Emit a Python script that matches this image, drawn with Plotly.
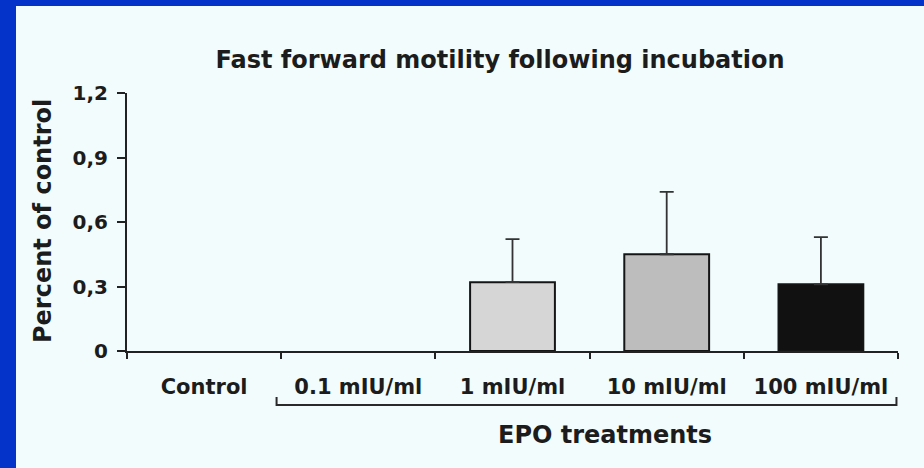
import plotly.graph_objects as go

# Categories and measured values (fraction of control), upper SD
categories = ["Control", "0.1 mIU/ml", "1 mIU/ml", "10 mIU/ml", "100 mIU/ml"]
values = [None, None, 0.32, 0.45, 0.31]
errors_up = [None, None, 0.20, 0.29, 0.22]
bar_colors = ["#d2d2d2", "#d2d2d2", "#d6d6d6", "#bdbdbd", "#111111"]

y_tick_vals = [0, 0.3, 0.6, 0.9, 1.2]
y_tick_text = ["0", "0,3", "0,6", "0,9", "1,2"]

title_text = "Fast forward motility following incubation"
y_title = "Percent of control"
group_title = "EPO treatments"

W, H = 924, 468
L, R, T, B = 127, 26, 93, 117
PW, PH = W - L - R, H - T - B

FONT = "DejaVu Sans"
INK = "#1c1c1c"
PANEL = "#f2fcfc"
BLUE = "#0333c9"


def px_x(px):
    return (px - L) / PW


def px_y(py):
    return (H - B - py) / PH


fig = go.Figure()
fig.add_trace(go.Bar(
    x=categories,
    y=values,
    width=0.55,
    marker=dict(color=bar_colors, line=dict(color="#151515", width=2)),
    error_y=dict(type="data", symmetric=False, array=errors_up,
                 arrayminus=[0 if v is not None else None for v in errors_up],
                 color="#333333", thickness=1.8, width=7),
    showlegend=False,
))

shapes = [
    # light panel over the blue frame
    dict(type="rect", xref="paper", yref="paper", layer="below",
         x0=px_x(16), x1=px_x(W + 2), y0=px_y(H + 2), y1=px_y(6),
         fillcolor=PANEL, line=dict(width=0)),
    # bracket under the EPO doses
    dict(type="path", xref="x", yref="paper",
         path=f"M 0.47,{px_y(397)} L 0.47,{px_y(405)} L 4.49,{px_y(405)} L 4.49,{px_y(397)}",
         line=dict(color="#2a2a2a", width=2)),
]

fig.update_layout(
    width=W, height=H,
    margin=dict(l=L, r=R, t=T, b=B),
    paper_bgcolor=BLUE,
    plot_bgcolor=PANEL,
    shapes=shapes,
    title=dict(text=title_text, xref="container", yref="container",
               x=500 / W, y=1 - 60 / H, xanchor="center", yanchor="middle",
               font=dict(family=FONT, size=24, weight="bold", color=INK)),
    annotations=[
        dict(text=group_title, xref="paper", yref="paper",
             x=px_x(605), y=px_y(435), showarrow=False,
             xanchor="center", yanchor="middle",
             font=dict(family=FONT, size=24, weight="bold", color=INK)),
        dict(text=y_title, xref="paper", yref="paper",
             x=px_x(43), y=px_y(221), showarrow=False, textangle=-90,
             xanchor="center", yanchor="middle",
             font=dict(family=FONT, size=24, weight="bold", color=INK)),
    ],
    bargap=0.45,
)

fig.update_xaxes(
    type="category", categoryorder="array", categoryarray=categories,
    range=[-0.5, 4.5], tickson="boundaries",
    ticks="outside", ticklen=6, tickwidth=2, tickcolor="#222",
    showline=True, linewidth=2, linecolor="#222",
    showgrid=False, zeroline=False, ticklabelstandoff=16,
    tickfont=dict(family=FONT, size=21, weight="bold", color=INK),
)
fig.update_yaxes(
    range=[0, 1.2], tickvals=y_tick_vals, ticktext=y_tick_text,
    ticks="outside", ticklen=8, tickwidth=2, tickcolor="#222",
    showline=True, linewidth=2, linecolor="#222",
    showgrid=False, zeroline=False, ticklabelstandoff=5,
    tickfont=dict(family=FONT, size=20, weight="bold", color=INK),
)

fig.write_html("out.html")
